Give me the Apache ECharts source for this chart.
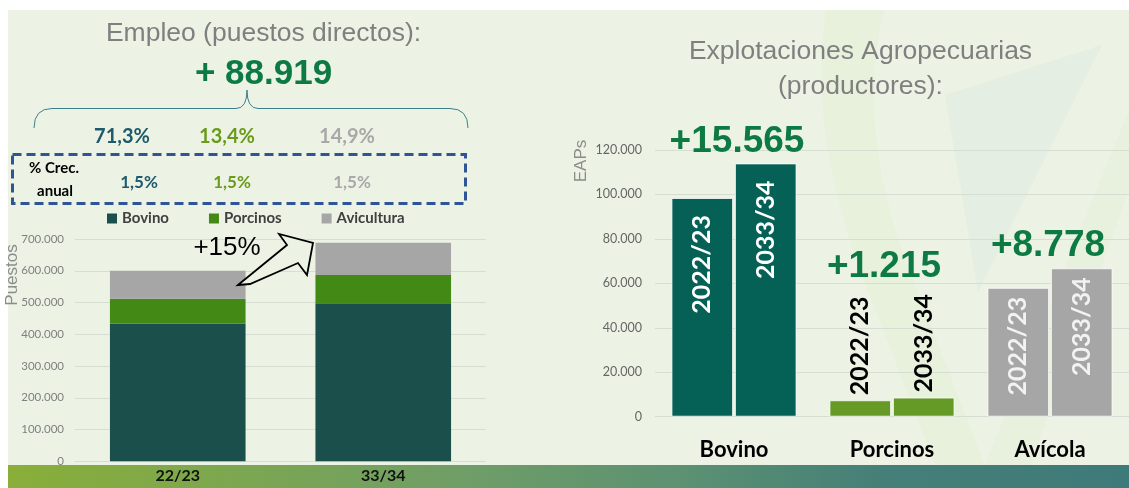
<!DOCTYPE html>
<html>
<head>
<meta charset="utf-8">
<script src="https://cdn.jsdelivr.net/npm/echarts@6/dist/echarts.min.js"></script>
<style>
  html, body { margin:0; padding:0; background:#ffffff; }
  #wrap { position:relative; width:1129px; height:488px; overflow:hidden; background:#ffffff; }
  #bg { position:absolute; left:8px; top:10px; width:1121px; height:455px; background:#ecf3e5; }
  #band { position:absolute; left:8px; top:465px; width:1121px; height:23px;
          background:linear-gradient(to right,#89ae39 0%,#7ba652 22%,#6e9d68 42%,#5c9172 60%,#457f78 78%,#3e7a79 100%); }
  #deco { position:absolute; left:0; top:0; }
  #chart { position:absolute; left:0; top:0; width:1129px; height:488px; }
</style>
</head>
<body>
<div id="wrap">
  <div id="bg"></div>
  <svg id="deco" width="1129" height="465">
    <path d="M826,10 L884,10 Q856,120 905,260 L985,465 L935,465 L860,270 Q808,130 826,10 Z" fill="#e3eed6" opacity="0.55"/>
    <path d="M945,95 L1102,45 L978,292 Z" fill="#dde9df" opacity="0.5"/>
    <path d="M1129,110 L1129,190 L1030,465 L985,465 Z" fill="#e4efd8" opacity="0.5"/>
  </svg>
  <div id="band"></div>
  <div id="chart"></div>
</div>
<script>
// ---------- DATA ----------
const empCats = ['22/23', '33/34'];
const empSeriesNames = ['Bovino', 'Porcinos', 'Avicultura'];
const empBovino = [434000, 497400];
const empPorcinos = [77500, 89400];
const empAvicultura = [88500, 101700];
const empTicksMax = 700000;
const empTicksStep = 100000;

const eapCats = ['Bovino', 'Porcinos', 'Avícola'];
const eapPeriods = ['2022/23', '2033/34'];
const eap2022 = [98400, 7400, 58000];
const eap2033 = [113965, 8615, 66778];
const eapGrowth = ['+15.565', '+1.215', '+8.778'];
const eapTicksMax = 120000;
const eapTicksStep = 20000;

const empTitle = 'Empleo (puestos directos):';
const empTotalChange = '+ 88.919';
const shareLabels = ['71,3%', '13,4%', '14,9%'];
const annualGrowth = ['1,5%', '1,5%', '1,5%'];
const annualLabel = ['% Crec.', 'anual'];
const empJump = '+15%';
const eapTitle = ['Explotaciones Agropecuarias', '(productores):'];

// ---------- STYLE ----------
const CAL = 'Lato, "Open Sans", sans-serif';
const ARI = '"Liberation Sans", Arial, sans-serif';
const empColors = ['#1b4f4b', '#428a15', '#a6a6a6'];
const eapColors = ['#056055', '#659a27', '#a6a6a6'];
const shareColors = ['#1d5a6c', '#6b9a1b', '#a8a8a8'];
const eapLabelStyle = [
  { position: 'insideTop', distance: 17, align: 'right', color: '#ffffff' },
  { position: 'top', distance: 5, align: 'left', color: '#000000' },
  { position: 'insideTop', distance: 9, align: 'right', color: '#f2f2f2' }
];
const fmt = v => String(v).replace(/\B(?=(\d{3})+(?!\d))/g, '.');

const chart = echarts.init(document.getElementById('chart'), null, { renderer: 'canvas' });

function eapData(values, p) {
  return values.map((v, i) => ({
    value: v,
    itemStyle: { color: eapColors[i] },
    label: {
      show: true,
      formatter: eapPeriods[p],
      rotate: 90,
      position: eapLabelStyle[i].position,
      distance: eapLabelStyle[i].distance,
      align: eapLabelStyle[i].align,
      verticalAlign: 'middle',
      color: eapLabelStyle[i].color,
      fontFamily: CAL,
      fontWeight: 'bold',
      fontSize: 25
    }
  }));
}

const empData = [empBovino, empPorcinos, empAvicultura];

chart.setOption({
  animation: false,
  backgroundColor: 'transparent',
  grid: [
    { left: 75, right: 643, top: 239, bottom: 26.7 },
    { left: 655, right: -9, top: 150, bottom: 71.3 }
  ],
  legend: {
    data: empSeriesNames,
    left: 107, top: 211, padding: 0,
    itemWidth: 10, itemHeight: 10, itemGap: 40, icon: 'rect',
    textStyle: { fontFamily: CAL, fontWeight: 'bold', fontSize: 15, color: '#404040' }
  },
  xAxis: [
    { type: 'category', gridIndex: 0, data: empCats,
      axisLine: { show: false }, axisTick: { show: false },
      axisLabel: { margin: 7, fontFamily: CAL, fontWeight: 'bold', fontSize: 16, color: '#111111' } },
    { type: 'category', gridIndex: 1, data: eapCats,
      axisLine: { show: false }, axisTick: { show: false },
      axisLabel: { margin: 22, fontFamily: CAL, fontWeight: 'bold', fontSize: 22, color: '#000000' } }
  ],
  yAxis: [
    { type: 'value', gridIndex: 0, min: 0, max: empTicksMax, interval: empTicksStep,
      axisLine: { show: false }, axisTick: { show: false },
      splitLine: { lineStyle: { color: '#d6ddd2', width: 1 } },
      axisLabel: { formatter: fmt, margin: 11, fontFamily: CAL, fontSize: 11.5, color: '#808080' } },
    { type: 'value', gridIndex: 1, min: 0, max: eapTicksMax, interval: eapTicksStep,
      axisLine: { show: false }, axisTick: { show: false },
      splitLine: { lineStyle: { color: '#d6ddd2', width: 1 } },
      axisLabel: { formatter: fmt, margin: 13, fontFamily: CAL, fontSize: 12.5, color: '#666666' } }
  ],
  series: empSeriesNames.map((n, i) => ({
    name: n, type: 'bar', stack: 'emp', xAxisIndex: 0, yAxisIndex: 0,
    barWidth: '66%', data: empData[i], itemStyle: { color: empColors[i] }
  })).concat([
    { name: eapPeriods[0], type: 'bar', xAxisIndex: 1, yAxisIndex: 1,
      barWidth: '39%', barGap: '3%', data: eapData(eap2022, 0),
      itemStyle: { borderColor: 'rgba(255,255,255,0.75)', borderWidth: 1 } },
    { name: eapPeriods[1], type: 'bar', xAxisIndex: 1, yAxisIndex: 1,
      barWidth: '39%', barGap: '3%', data: eapData(eap2033, 1),
      itemStyle: { borderColor: 'rgba(255,255,255,0.75)', borderWidth: 1 } }
  ])
});

function txt(x, y, text, font, fill, extra) {
  return Object.assign({
    type: 'text', x: x, y: y, z: 50,
    style: { text: text, font: font, fill: fill,
             align: 'center', verticalAlign: 'middle',
             textAlign: 'center', textVerticalAlign: 'middle' }
  }, extra || {});
}
const braceStyle = { fill: 'none', stroke: '#3b7f8c', lineWidth: 1 };
function curve(x1, y1, x2, y2, cx, cy) {
  return { type: 'bezierCurve', z: 50, shape: { x1: x1, y1: y1, x2: x2, y2: y2, cpx1: cx, cpy1: cy }, style: braceStyle };
}
function seg(x1, y1, x2, y2) {
  return { type: 'line', z: 50, shape: { x1: x1, y1: y1, x2: x2, y2: y2 }, style: braceStyle };
}

const g = [];
g.push(txt(263.5, 34, empTitle, '26.5px ' + ARI, '#7f7f7f'));
g.push(txt(263.5, 74, empTotalChange, 'bold 35px ' + ARI, '#0d7a43'));
g.push(curve(34, 128, 52, 108.5, 34, 108.5));
g.push(seg(52, 108.5, 236, 108.5));
g.push(curve(236, 108.5, 247, 90, 247, 108.5));
g.push(curve(247, 90, 258, 108.5, 247, 108.5));
g.push(seg(258, 108.5, 450, 108.5));
g.push(curve(450, 108.5, 468, 128, 468, 108.5));
const shareX = [122, 227, 347];
const growthX = [139, 232, 352];
shareLabels.forEach((s, i) => g.push(txt(shareX[i], 137, s, 'bold 20px ' + CAL, shareColors[i])));
g.push({ type: 'rect', z: 50, shape: { x: 12.5, y: 154.5, width: 453, height: 49 },
  style: { fill: 'none', stroke: '#2f5597', lineWidth: 3, lineDash: [9, 5] } });
g.push(txt(54, 168, annualLabel[0], 'bold 15px ' + CAL, '#000000'));
g.push(txt(55, 191, annualLabel[1], 'bold 15px ' + CAL, '#000000'));
annualGrowth.forEach((s, i) => g.push(txt(growthX[i], 183, s, 'bold 17px ' + CAL, shareColors[i])));
g.push(txt(227, 248, empJump, '26px ' + ARI, '#000000'));
g.push({ type: 'polygon', z: 50, shape: { points:
  [[238, 285], [287, 245], [279, 234], [313, 243], [307, 275], [298, 263], [250, 284]] },
  style: { fill: '#ecf3e5', stroke: '#000000', lineWidth: 1.8, lineJoin: 'miter' } });
g.push(txt(12, 275, 'Puestos', '17px ' + ARI, '#8c8c8c', { rotation: Math.PI / 2 }));
g.push(txt(581, 161, 'EAPs', '17px ' + ARI, '#8c8c8c', { rotation: Math.PI / 2 }));
g.push(txt(860.5, 52, eapTitle[0], '26.5px ' + ARI, '#7f7f7f'));
g.push(txt(860.5, 87, eapTitle[1], '26.5px ' + ARI, '#7f7f7f'));

const growthDx = [3, -8, -2];
const growthDy = [22, 131, 22.5];
eapCats.forEach((c, i) => {
  const top = Math.max(eap2022[i], eap2033[i]);
  const p = chart.convertToPixel({ xAxisIndex: 1, yAxisIndex: 1 }, [c, top]);
  g.push(txt(p[0] + growthDx[i], p[1] - growthDy[i], eapGrowth[i], 'bold 37px ' + ARI, '#0d7a43'));
});

chart.setOption({ graphic: g });
</script>
</body>
</html>
